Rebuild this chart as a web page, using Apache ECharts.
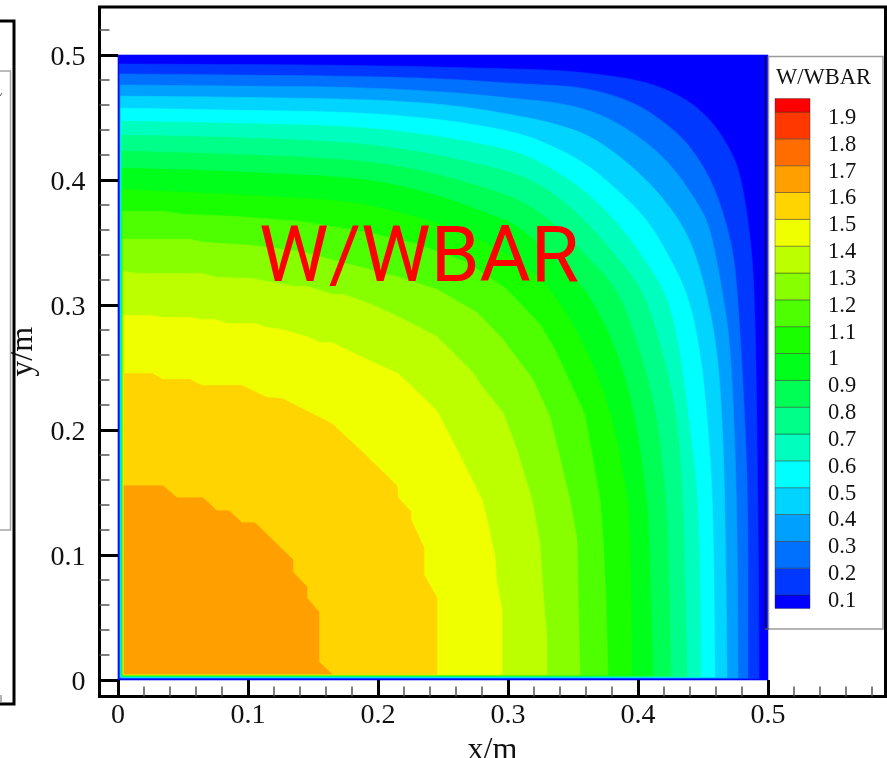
<!DOCTYPE html>
<html>
<head>
<meta charset="utf-8">
<style>html,body{margin:0;padding:0;background:#fff}#c{width:887px;height:758px}</style>
<script src="https://cdn.jsdelivr.net/npm/echarts@6/dist/echarts.min.js"></script>
</head>
<body>
<div id="c"></div>
<script>
// Values: tick positions
const axisMajor = [0, 0.1, 0.2, 0.3, 0.4, 0.5];
const xMinor = [0.02,0.04,0.06,0.08,0.12,0.14,0.16,0.18,0.22,0.24,0.26,0.28,0.32,0.34,0.36,0.38,0.42,0.44,0.46,0.48,0.52,0.54,0.56,0.58];
const yMinor = [0.02,0.04,0.06,0.08,0.12,0.14,0.16,0.18,0.22,0.24,0.26,0.28,0.32,0.34,0.36,0.38,0.42,0.44,0.46,0.48,0.52];
const legendLevels = [0.1,0.2,0.3,0.4,0.5,0.6,0.7,0.8,0.9,1,1.1,1.2,1.3,1.4,1.5,1.6,1.7,1.8,1.9];
const legendEdges = [0.05,0.1,0.2,0.3,0.4,0.5,0.6,0.7,0.8,0.9,1,1.1,1.2,1.3,1.4,1.5,1.6,1.7,1.8,1.9,1.95];
const bandColors = ['#0000ff','#0038ff','#0070ff','#00a0ff','#00d4ff','#00ffff','#00ffbf','#00ff88','#00ff55','#00ff1a','#1aff00','#4dff00','#88ff00','#bcff00','#f0ff00','#ffd400','#ff9f00','#ff6c00','#ff3800','#ff0000'];

// Domain
const domain = [[0,0],[0.5,0],[0.5,0.5],[0,0.5]];
// Iso-lines of W/WBAR, [x, y] in metres, from the left wall round to the bottom wall
const c01 = [[.0009,.4928],[.1785,.4920],[.3092,.4888],[.3477,.4872],[.3862,.4824],[.4115,.4768],[.4377,.4647],[.4577,.4463],[.4708,.4247],[.4785,.4062],[.4862,.3582],[.4900,.3045],[.4923,.1442],[.4931,.0012]];
const c02 = [[.0015,.4848],[.0885,.4840],[.1785,.4832],[.2554,.4808],[.3092,.4768],[.3477,.4752],[.3731,.4704],[.3992,.4607],[.4192,.4471],[.4377,.4303],[.4531,.4062],[.4631,.3822],[.4731,.3446],[.4769,.3045],[.4815,.2244],[.4846,.1442],[.4846,.0016]];
const c03 = [[.0018,.4760],[.0885,.4752],[.1785,.4744],[.2554,.4704],[.3092,.4647],[.3346,.4623],[.3608,.4567],[.3862,.4447],[.4115,.4263],[.4300,.4062],[.4454,.3822],[.4554,.3630],[.4654,.3085],[.4715,.2644],[.4762,.1442],[.4769,.0018]];
const c04 = [[.0020,.4671],[.0885,.4663],[.1785,.4647],[.2300,.4623],[.2685,.4583],[.3092,.4511],[.3346,.4455],[.3608,.4367],[.3862,.4191],[.4115,.3950],[.4300,.3710],[.4423,.3470],[.4531,.3085],[.4608,.2644],[.4646,.2123],[.4669,.1442],[.4685,.0021]];
const c05 = [[.0022,.4575],[.0885,.4559],[.1785,.4543],[.2300,.4503],[.2685,.4455],[.3092,.4375],[.3346,.4271],[.3608,.4127],[.3862,.3902],[.4069,.3686],[.4223,.3421],[.4385,.3085],[.4477,.2644],[.4531,.2123],[.4577,.1442],[.4592,.0024]];
const c06 = [[.0025,.4471],[.0885,.4455],[.1785,.4431],[.2300,.4375],[.2685,.4311],[.3092,.4223],[.3346,.4087],[.3608,.3902],[.3838,.3662],[.4015,.3421],[.4223,.3085],[.4323,.2644],[.4385,.2123],[.4469,.1442],[.4485,.0026]];
const c07 = [[.0027,.4359],[.0885,.4343],[.1785,.4303],[.2300,.4231],[.2685,.4151],[.3092,.4046],[.3346,.3902],[.3608,.3662],[.3808,.3421],[.4038,.3125],[.4185,.2644],[.4300,.2123],[.4346,.1442],[.4354,.1122],[.4377,.0029]];
const c08 = [[.0029,.4231],[.0885,.4207],[.1785,.4167],[.2300,.4087],[.2685,.3982],[.3092,.3846],[.3346,.3662],[.3608,.3389],[.3846,.3125],[.4015,.2644],[.4146,.2123],[.4215,.1442],[.4231,.1122],[.4254,.0032]];
const c09 = [[.0031,.4095],[.0631,.4079],[.1146,.4054],[.1785,.4022],[.2169,.3958],[.2554,.3846],[.2862,.3726],[.3092,.3630],[.3377,.3341],[.3615,.3109],[.3838,.2644],[.3977,.2123],[.4069,.1442],[.4085,.1122],[.4115,.0034]];
const c10 = [[.0033,.3926],[.0500,.3902],[.1146,.3870],[.1785,.3830],[.2169,.3742],[.2554,.3622],[.2862,.3486],[.3092,.3341],[.3338,.3125],[.3608,.2644],[.3800,.2123],[.3923,.1442],[.3938,.1122],[.3954,.0037]];
const c11 = [[.0035,.3750],[.0346,.3750],[.0500,.3726],[.0885,.3710],[.1400,.3670],[.1915,.3582],[.2300,.3486],[.2685,.3341],[.2992,.3125],[.3246,.2845],[.3362,.2644],[.3592,.2123],[.3708,.1442],[.3731,.1122],[.3754,.0641],[.3769,.0038]];
const c12 = [[.0038,.3526],[.0554,.3526],[.0654,.3502],[.1015,.3478],[.1400,.3429],[.1785,.3325],[.2169,.3221],[.2454,.3125],[.2762,.2941],[.2962,.2724],[.3192,.2404],[.3323,.2107],[.3477,.1442],[.3531,.1122],[.3538,.0745],[.3554,.0040]];
const c13 = [[.0040,.3269],[.0146,.3253],[.0646,.3253],[.0762,.3221],[.1038,.3213],[.1146,.3189],[.1362,.3149],[.1454,.3149],[.1654,.3085],[.1731,.3085],[.1915,.3021],[.2169,.2901],[.2454,.2748],[.2731,.2460],[.2800,.2348],[.2962,.2139],[.3069,.1843],[.3185,.1442],[.3246,.1098],[.3269,.0721],[.3300,.0321],[.3300,.0042]];
const c14 = [[.0042,.2917],[.0262,.2917],[.0346,.2901],[.0554,.2901],[.0646,.2885],[.0746,.2885],[.0846,.2853],[.1054,.2853],[.1146,.2821],[.1262,.2804],[.1454,.2748],[.1554,.2700],[.1646,.2700],[.1915,.2564],[.2154,.2452],[.2454,.2155],[.2608,.1843],[.2800,.1442],[.2846,.1258],[.2900,.0986],[.2915,.0777],[.2954,.0561],[.2954,.0043]];
const c15 = [[.0045,.2452],[.0262,.2452],[.0346,.2404],[.0554,.2404],[.0646,.2356],[.0954,.2356],[.1146,.2260],[.1262,.2252],[.1646,.2051],[.1862,.1843],[.2146,.1554],[.2154,.1458],[.2254,.1346],[.2254,.1282],[.2354,.1058],[.2354,.0841],[.2454,.0657],[.2454,.0045]];
const c16 = [[.0046,.1554],[.0346,.1554],[.0454,.1458],[.0654,.1458],[.0762,.1354],[.0854,.1354],[.0954,.1258],[.1054,.1258],[.1346,.0962],[.1346,.0865],[.1454,.0745],[.1454,.0657],[.1546,.0545],[.1546,.0144],[.1646,.0048]];
const isoLines = [c01,c02,c03,c04,c05,c06,c07,c08,c09,c10,c11,c12,c13,c14,c15,c16];

// Each filled region is the domain above one iso-line, closed at the origin-side corner
const regions = [domain].concat(isoLines);

// Rounds the drawn outline only (corner cutting on screen points, ends kept)
function roundCorners(pts, passes) {
  let out = pts;
  for (let n = 0; n < passes; n++) {
    const next = [out[0]];
    for (let i = 0; i < out.length - 1; i++) {
      const a = out[i], b = out[i + 1];
      next.push([a[0] * 0.75 + b[0] * 0.25, a[1] * 0.75 + b[1] * 0.25]);
      next.push([a[0] * 0.25 + b[0] * 0.75, a[1] * 0.25 + b[1] * 0.75]);
    }
    next.push(out[out.length - 1]);
    out = next;
  }
  return out;
}

const serif = '"Liberation Serif"';
const chart = echarts.init(document.getElementById('c'), null, {renderer: 'canvas'});
const hidden = {show: false};
const noLine = {show: false, onZero: false};

chart.setOption({
  animation: false,
  backgroundColor: '#fff',
  title: [
    {text: 'W/WBAR', left: 254, top: 217, z: 20,
     textStyle: {fontFamily: 'Roboto', fontWeight: 'normal', fontSize: 78.5, color: '#ff0000'}},
    {text: 'W/WBAR', left: 771, top: 62, z: 20,
     textStyle: {fontFamily: serif, fontWeight: 'normal', fontSize: 22.5, color: '#111'}}
  ],
  grid: [
    {left: 99.5, top: 7, right: 1.5, bottom: 61.5, show: true, borderColor: '#000', borderWidth: 3, backgroundColor: '#fff', outerBoundsMode: 'none'},
    {left: 775, top: 98.6, width: 35, height: 509.8, outerBoundsMode: 'none'}
  ],
  xAxis: [
    {type: 'value', gridIndex: 0, position: 'bottom', min: -0.01423, max: 0.5904, z: 6,
     name: 'x/m', nameLocation: 'middle', nameGap: 23,
     nameTextStyle: {fontFamily: serif, fontSize: 32, color: '#111'},
     axisLine: noLine, splitLine: hidden,
     axisTick: {show: true, inside: true, length: 16.5, customValues: axisMajor, lineStyle: {color: '#000', width: 3}},
     axisLabel: {show: true, customValues: axisMajor, margin: 5, fontFamily: serif, fontSize: 28, color: '#111',
       formatter: function (v) { return String(v); }}},
    {type: 'value', gridIndex: 0, position: 'bottom', min: -0.01423, max: 0.5904, z: 5,
     axisLine: noLine, splitLine: hidden, axisLabel: hidden,
     axisTick: {show: true, inside: true, length: 10, customValues: xMinor, lineStyle: {color: '#555', width: 1.5}}},
    {type: 'value', gridIndex: 1, min: 0, max: 1, show: false}
  ],
  yAxis: [
    {type: 'value', gridIndex: 0, position: 'left', min: -0.0132, max: 0.5384, z: 6,
     name: 'y/m', nameLocation: 'middle', nameGap: 54, nameRotate: 90,
     nameTextStyle: {fontFamily: serif, fontSize: 32, color: '#111'},
     axisLine: noLine, splitLine: hidden,
     axisTick: {show: true, inside: true, length: 18.5, customValues: axisMajor, lineStyle: {color: '#000', width: 3}},
     axisLabel: {show: true, customValues: axisMajor, margin: 14, verticalAlign: 'top', lineHeight: 5, fontFamily: serif, fontSize: 28, color: '#111',
       formatter: function (v) { return String(v); }}},
    {type: 'value', gridIndex: 0, position: 'left', min: -0.0132, max: 0.5384, z: 5,
     axisLine: noLine, splitLine: hidden, axisLabel: hidden,
     axisTick: {show: true, inside: true, length: 10, customValues: yMinor, lineStyle: {color: '#555', width: 1.5}}},
    {type: 'value', gridIndex: 1, position: 'right', min: 0.05, max: 1.95, z: 12,
     axisLine: noLine, splitLine: hidden, axisTick: hidden,
     axisLabel: {show: true, customValues: legendLevels, margin: 18, verticalAlign: 'top', lineHeight: 12, fontFamily: serif, fontSize: 22.5, color: '#111',
       formatter: function (v) { return String(v); }}}
  ],
  graphic: [
    {type: 'rect', z: 8, silent: true, shape: {x: 768.5, y: 56.5, width: 114.5, height: 572.5},
     style: {fill: '#fff', stroke: '#9a9a9a', lineWidth: 1.5}},
    {type: 'line', z: 9, silent: true, shape: {x1: 765.5, y1: 56, x2: 765.5, y2: 629},
     style: {stroke: '#00005a', lineWidth: 1.5}},
    {type: 'line', z: 9, silent: true, shape: {x1: 765, y1: 629, x2: 769, y2: 629},
     style: {stroke: '#555', lineWidth: 1.5}},
    {type: 'polyline', z: 9, silent: true, shape: {points: [[0, 21], [14, 21], [14, 704], [0, 704]]},
     style: {fill: 'none', stroke: '#000', lineWidth: 3}},
    {type: 'polyline', z: 9, silent: true, shape: {points: [[0, 71], [10.5, 71], [10.5, 530], [0, 530]]},
     style: {fill: 'none', stroke: '#a5a5a5', lineWidth: 1.5}},
    {type: 'line', z: 9, silent: true, shape: {x1: 1, y1: 695, x2: 1, y2: 702},
     style: {stroke: '#999', lineWidth: 1.5}},
    {type: 'line', z: 9, silent: true, shape: {x1: 0, y1: 96, x2: 2, y2: 93},
     style: {stroke: '#555', lineWidth: 1}}
  ],
  series: [
    {type: 'custom', xAxisIndex: 0, yAxisIndex: 0, z: 1, silent: true, clip: false,
     coordinateSystem: 'cartesian2d',
     data: regions.map(function (r, i) { return [r[0][0], r[0][1], i]; }),
     renderItem: function (params, api) {
       const i = params.dataIndex;
       const line = regions[i];
       let pts = line.map(function (p) { return api.coord(p); });
       if (i > 0) {
         // the outer iso-lines are smooth in the picture, the inner ones are faceted
         if (i <= 10) { pts = roundCorners(pts, 3); }
         pts = pts.concat([api.coord([line[0][0], line[line.length - 1][1]])]);
       }
       return {type: 'polygon', shape: {points: pts},
               style: {fill: bandColors[i], stroke: bandColors[i], lineWidth: 0.6}};
     }},
    {type: 'custom', xAxisIndex: 2, yAxisIndex: 2, z: 10, silent: true, clip: false,
     coordinateSystem: 'cartesian2d',
     data: bandColors.map(function (c, i) { return [0, legendEdges[i], legendEdges[i + 1]]; }),
     renderItem: function (params, api) {
       const a = api.coord([0, api.value(1)]);
       const b = api.coord([1, api.value(2)]);
       return {type: 'rect', shape: {x: a[0], y: b[1], width: b[0] - a[0], height: a[1] - b[1]},
               style: {fill: bandColors[params.dataIndex], stroke: 'rgba(40,40,40,0.4)', lineWidth: 1}};
     }}
  ]
});
</script>
</body>
</html>
